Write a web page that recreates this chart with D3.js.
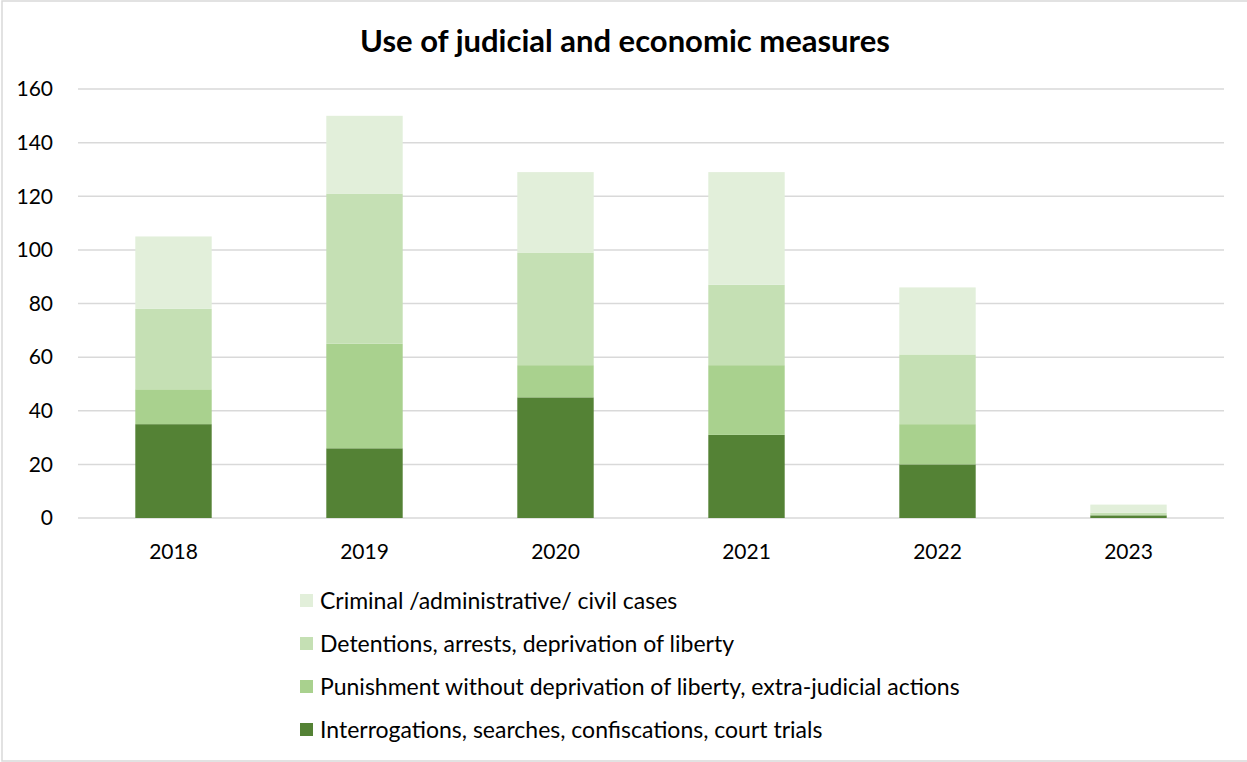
<!DOCTYPE html>
<html>
<head>
<meta charset="utf-8">
<script src="https://cdn.jsdelivr.net/npm/d3@7"></script>
<style>
  body { margin: 0; background: #fff; }
  text { font-family: Lato, "Open Sans", sans-serif; fill: #000; }
</style>
</head>
<body>
<div id="chart"></div>
<script>
// data
var years = ['2018', '2019', '2020', '2021', '2022', '2023'];
var interrogations = [35, 26, 45, 31, 20, 1];
var punishment = [13, 39, 12, 26, 15, 0];
var detentions = [30, 56, 42, 30, 26, 1];
var criminal = [27, 29, 30, 42, 25, 3];
var seriesNames = [
  'Interrogations, searches, confiscations, court trials',
  'Punishment without deprivation of liberty, extra-judicial actions',
  'Detentions, arrests, deprivation of liberty',
  'Criminal /administrative/ civil cases'
];
var yTicks = [0, 20, 40, 60, 80, 100, 120, 140, 160];

var colors = ['#548235', '#a9d18e', '#c5e0b4', '#e2efda'];

var width = 1247, height = 762;
var svg = d3.select('#chart').append('svg')
  .attr('width', width)
  .attr('height', height);

// frame
svg.append('rect')
  .attr('x', 2).attr('y', 1)
  .attr('width', 1260).attr('height', 760)
  .attr('fill', 'none')
  .attr('stroke', '#d9d9d9')
  .attr('stroke-width', 1.5);

svg.append('text')
  .attr('x', 625).attr('y', 52)
  .attr('text-anchor', 'middle')
  .style('font-size', '31px')
  .style('font-weight', 'bold')
  .text('Use of judicial and economic measures');

var plotLeft = 78, plotRight = 1224, plotTop = 89, plotBottom = 518;

var rows = years.map(function(y, i) {
  return { year: y, s0: interrogations[i], s1: punishment[i], s2: detentions[i], s3: criminal[i] };
});
var stack = d3.stack().keys(['s0', 's1', 's2', 's3'])(rows);

var x = d3.scaleBand().domain(years).range([plotLeft, plotRight]).paddingInner(0.6).paddingOuter(0.3);
var y = d3.scaleLinear().domain([0, 160]).range([plotBottom, plotTop]);

// gridlines
svg.append('g')
  .selectAll('line')
  .data(yTicks)
  .join('line')
  .attr('x1', plotLeft).attr('x2', plotRight)
  .attr('y1', d => y(d)).attr('y2', d => y(d))
  .attr('stroke', '#d9d9d9')
  .attr('stroke-width', 1.5);

// y labels
svg.append('g')
  .selectAll('text')
  .data(yTicks)
  .join('text')
  .attr('x', 53)
  .attr('y', d => y(d))
  .attr('dy', '0.35em')
  .attr('text-anchor', 'end')
  .style('font-size', '21px')
  .text(d => d);

// bars
svg.append('g')
  .selectAll('g')
  .data(stack)
  .join('g')
  .attr('fill', (d, i) => colors[i])
  .selectAll('rect')
  .data(d => d)
  .join('rect')
  .attr('x', d => x(d.data.year))
  .attr('width', x.bandwidth())
  .attr('y', d => y(d[1]))
  .attr('height', d => y(d[0]) - y(d[1]));

// x labels
svg.append('g')
  .selectAll('text')
  .data(years)
  .join('text')
  .attr('x', d => x(d) + x.bandwidth() / 2)
  .attr('y', 559)
  .attr('text-anchor', 'middle')
  .style('font-size', '21px')
  .text(d => d);

// legend, top entry is the last series
var legend = svg.append('g')
  .selectAll('g')
  .data(d3.range(4).reverse())
  .join('g')
  .attr('transform', (d, i) => 'translate(300,' + (601 + i * 43) + ')');
legend.append('rect')
  .attr('x', 0).attr('y', -7)
  .attr('width', 13).attr('height', 13)
  .attr('fill', d => colors[d]);
legend.append('text')
  .attr('x', 20)
  .attr('dy', '0.35em')
  .style('font-size', '23px')
  .text(d => seriesNames[d]);
</script>
</body>
</html>
